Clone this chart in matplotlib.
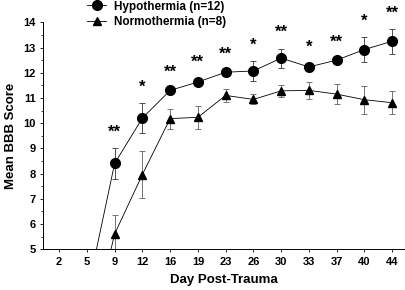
import matplotlib
matplotlib.use('Agg')
import matplotlib.pyplot as plt
from matplotlib.lines import Line2D
from matplotlib.ticker import MultipleLocator

plt.rcParams['font.family'] = ['Liberation Sans', 'DejaVu Sans']
plt.rcParams['font.weight'] = 'bold'

days = [2, 5, 9, 12, 16, 19, 23, 26, 30, 33, 37, 40, 44]

# values for day 2 and 5 sit below the visible axis range
hypo_mean = [0.0, 3.2, 8.4, 10.2, 11.3, 11.63, 12.02, 12.07, 12.58, 12.23, 12.5, 12.92, 13.25]
hypo_err = [0, 0, 0.6, 0.6, 0.1, 0.17, 0.1, 0.38, 0.38, 0.15, 0.1, 0.48, 0.5]
normo_mean = [0.0, 1.0, 5.6, 7.96, 10.18, 10.23, 11.1, 10.94, 11.28, 11.3, 11.15, 10.93, 10.81]
normo_err = [0, 0, 0.75, 0.95, 0.4, 0.45, 0.25, 0.2, 0.25, 0.35, 0.4, 0.55, 0.45]
stars = ['', '', '**', '*', '**', '**', '**', '*', '**', '*', '**', '*', '**']

x = list(range(len(days)))

fig = plt.figure(figsize=(4.06, 2.90), dpi=100)
ax = fig.add_axes([0.106, 0.141, 0.892, 0.782])

ax.errorbar(x, normo_mean, yerr=normo_err, color='black', ecolor='0.45',
            elinewidth=0.7, capsize=2, capthick=0.7, lw=0.6,
            marker='^', markersize=5.5)
ax.errorbar(x, hypo_mean, yerr=hypo_err, color='black', ecolor='0.3',
            elinewidth=0.7, capsize=2, capthick=0.7, lw=0.6,
            marker='o', markersize=7)

for xi, m, e, s in zip(x, hypo_mean, hypo_err, stars):
    if s:
        ax.annotate(s, (xi, m + e), xytext=(0, 6), textcoords='offset points',
                    ha='center', va='bottom', fontsize=12, fontweight='bold',
                    annotation_clip=False)

ax.set_xlim(-0.58, 12.47)
ax.set_ylim(5, 14)
ax.set_xticks(x)
ax.set_xticklabels([str(d) for d in days])
ax.yaxis.set_minor_locator(MultipleLocator(0.5))
ax.tick_params(axis='both', labelsize=8, length=2, width=0.6)
ax.tick_params(axis='y', which='minor', length=1.5, width=0.5)
ax.spines['top'].set_visible(False)
ax.spines['right'].set_visible(False)
ax.spines['left'].set_linewidth(0.7)
ax.spines['bottom'].set_linewidth(0.7)

ax.set_xlabel('Day Post-Trauma', fontsize=9.5, fontweight='bold', labelpad=5)
ax.set_ylabel('Mean BBB Score', fontsize=9.5, fontweight='bold', labelpad=4)

handles = [Line2D([], [], color='black', lw=0.6, marker='o', markersize=7),
           Line2D([], [], color='black', lw=0.6, marker='^', markersize=5.5)]
fig.legend(handles, ['Hypothermia (n=12)', 'Normothermia (n=8)'],
           loc='upper left', bbox_to_anchor=(0.215, 0.998), frameon=False,
           fontsize=8.5, handlelength=1.6, handletextpad=0.7,
           labelspacing=0.3, borderaxespad=0, borderpad=0)

fig.savefig('out.png', dpi=100)
